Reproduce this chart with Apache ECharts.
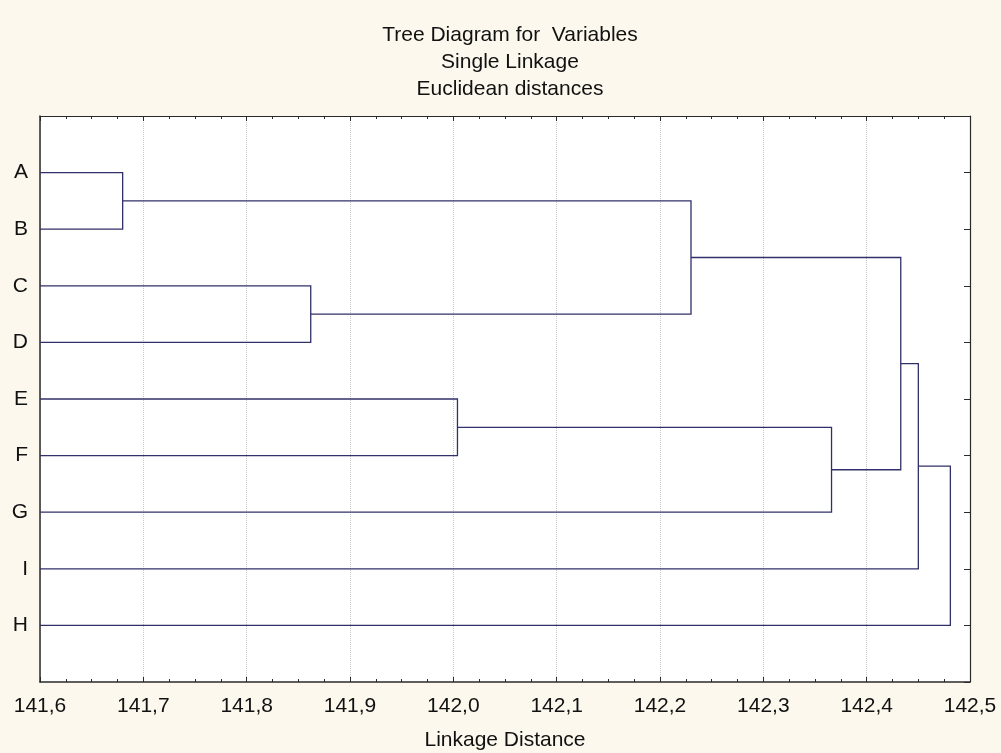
<!DOCTYPE html>
<html>
<head>
<meta charset="utf-8">
<title>Tree Diagram for Variables</title>
<script src="https://cdn.jsdelivr.net/npm/echarts@6/dist/echarts.min.js"></script>
<style>
  html, body { margin: 0; padding: 0; background: #fcf8ee; }
  #chart { width: 1001px; height: 753px; }
</style>
</head>
<body>
<div id="chart"></div>
<script>
// Leaves in display order (top to bottom)
const leaves = ['A', 'B', 'C', 'D', 'E', 'F', 'G', 'I', 'H'];

// Agglomeration steps: node indices 0..8 are leaves, step k creates node 9+k
const mergeLeft = [0, 2, 4, 9, 11, 12, 14, 15];
const mergeRight = [1, 3, 5, 10, 6, 13, 7, 8];
const mergeDistance = [141.680, 141.862, 142.004, 142.230, 142.366, 142.433, 142.450, 142.481];

const distMin = 141.6;
const distMax = 142.5;

const titleLines = ['Tree Diagram for  Variables', 'Single Linkage', 'Euclidean distances'];
const xAxisName = 'Linkage Distance';

// Node positions: leaves sit at 1..n on the vertical axis, clusters at the mean of their children
const nodeY = leaves.map((_, i) => i + 1);
const nodeX = leaves.map(() => distMin);
mergeLeft.forEach((l, k) => {
  const r = mergeRight[k];
  nodeY.push((nodeY[l] + nodeY[r]) / 2);
  nodeX.push(mergeDistance[k]);
});

// One U-shaped link per merge: [height, yLeft, yRight, xLeftChild, xRightChild]
const links = mergeLeft.map((l, k) => {
  const r = mergeRight[k];
  return [mergeDistance[k], nodeY[l], nodeY[r], nodeX[l], nodeX[r]];
});

const fontFamily = 'Liberation Sans, Arial, sans-serif';
const axisColor = '#2a2a2a';
const linkColor = '#30306a';
const textColor = '#111111';

const chart = echarts.init(document.getElementById('chart'), null, { renderer: 'canvas' });

chart.setOption({
  backgroundColor: '#fcf8ee',
  animation: false,
  textStyle: { fontFamily: fontFamily },
  title: {
    text: titleLines.join('\n'),
    left: 505,
    top: 17,
    textAlign: 'center',
    textStyle: {
      fontFamily: fontFamily,
      fontSize: 21,
      fontWeight: 'normal',
      color: textColor,
      lineHeight: 27
    }
  },
  grid: {
    left: 40,
    right: 31,
    top: 116,
    bottom: 71,
    containLabel: false,
    outerBoundsMode: 'none',
    show: true,
    backgroundColor: '#ffffff',
    borderWidth: 0
  },
  xAxis: [
    {
      type: 'value',
      position: 'bottom',
      min: distMin,
      max: distMax,
      interval: 0.1,
      name: xAxisName,
      nameLocation: 'middle',
      nameGap: 48,
      nameTextStyle: { fontSize: 21, color: textColor, fontFamily: fontFamily },
      axisLine: { show: true, onZero: false, lineStyle: { color: axisColor, width: 1.5 } },
      axisTick: { show: true, inside: true, length: 5, lineStyle: { color: axisColor } },
      minorTick: { show: true, splitNumber: 4, length: 3, lineStyle: { color: axisColor } },
      axisLabel: {
        fontSize: 21,
        color: textColor,
        margin: 14,
        formatter: v => v.toFixed(1).replace('.', ',')
      },
      splitLine: { show: true, lineStyle: { color: '#c9c9c9', type: 'dotted', width: 1 } }
    },
    {
      type: 'value',
      position: 'top',
      min: distMin,
      max: distMax,
      interval: 0.1,
      axisLine: { show: true, onZero: false, lineStyle: { color: axisColor, width: 1.2 } },
      axisTick: { show: true, inside: true, length: 5, lineStyle: { color: axisColor } },
      minorTick: { show: true, splitNumber: 4, length: 3, lineStyle: { color: axisColor } },
      axisLabel: { show: false },
      splitLine: { show: false }
    }
  ],
  yAxis: [
    {
      type: 'value',
      position: 'left',
      min: 0,
      max: leaves.length + 1,
      interval: 1,
      inverse: true,
      axisLine: { show: true, onZero: false, lineStyle: { color: axisColor, width: 1.5 } },
      axisTick: { show: false },
      axisLabel: {
        fontSize: 21,
        color: textColor,
        margin: 12,
        formatter: v => leaves[v - 1] || ''
      },
      splitLine: { show: false }
    },
    {
      type: 'value',
      position: 'right',
      min: 0,
      max: leaves.length + 1,
      interval: 1,
      inverse: true,
      axisLine: { show: true, onZero: false, lineStyle: { color: axisColor, width: 1.2 } },
      axisTick: { show: true, inside: true, length: 6, lineStyle: { color: axisColor } },
      axisLabel: { show: false },
      splitLine: { show: false }
    }
  ],
  series: [
    {
      type: 'custom',
      xAxisIndex: 0,
      yAxisIndex: 0,
      data: links,
      encode: { x: [0, 3, 4], y: [1, 2] },
      renderItem: function (params, api) {
        const h = api.value(0);
        const yL = api.value(1);
        const yR = api.value(2);
        const xL = api.value(3);
        const xR = api.value(4);
        const p1 = api.coord([xL, yL]);
        const p2 = api.coord([h, yL]);
        const p3 = api.coord([h, yR]);
        const p4 = api.coord([xR, yR]);
        return {
          type: 'polyline',
          shape: { points: [p1, p2, p3, p4] },
          style: { stroke: linkColor, lineWidth: 1.3, fill: null }
        };
      },
      z: 3
    }
  ]
});
</script>
</body>
</html>
